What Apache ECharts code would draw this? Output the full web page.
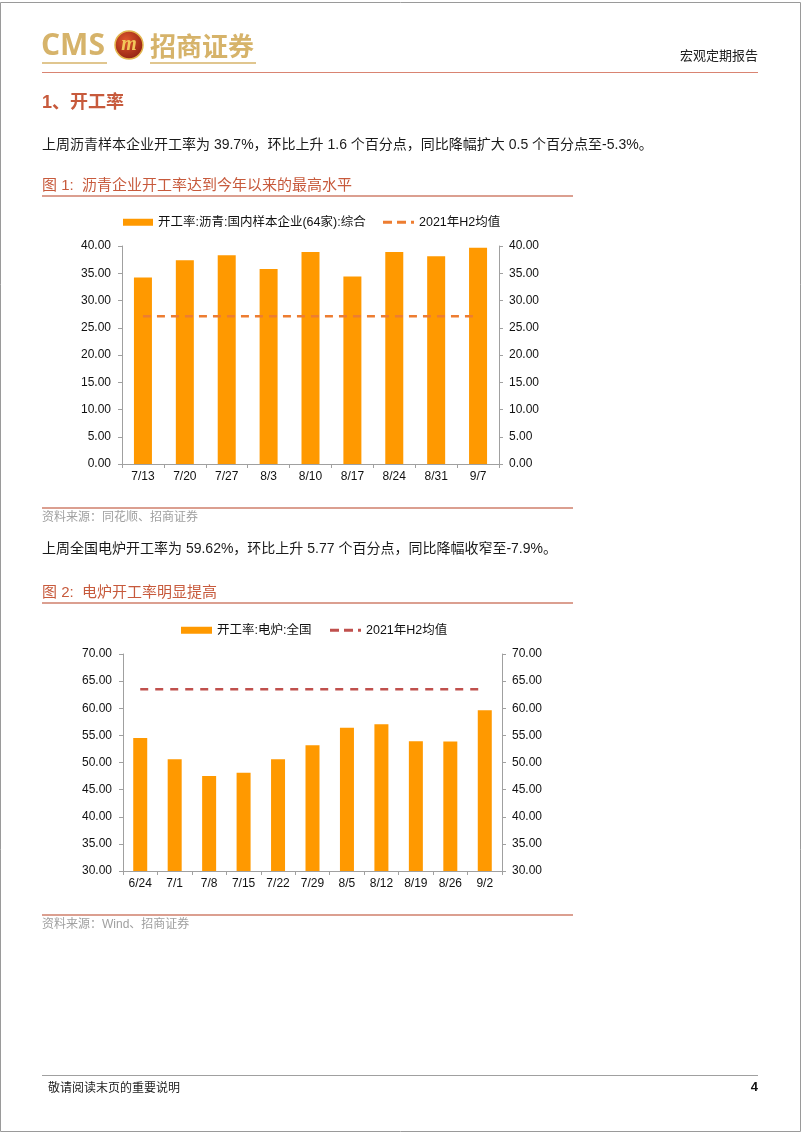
<!DOCTYPE html>
<html>
<head>
<meta charset="utf-8">
<script src="https://cdn.jsdelivr.net/npm/echarts@6/dist/echarts.min.js"></script>
<style>
html,body{margin:0;padding:0;background:#fff;}
#c{width:802px;height:1133px;}
</style>
</head>
<body>
<div id="c"></div>
<script>
// ---- Chart 1 data: 沥青开工率 ----
const cats1 = ['7/13','7/20','7/27','8/3','8/10','8/17','8/24','8/31','9/7'];
const asphalt = [34.2, 37.4, 38.3, 35.8, 38.9, 34.4, 38.9, 38.1, 39.7];
const asphaltAvg = [27.1, 27.1, 27.1, 27.1, 27.1, 27.1, 27.1, 27.1, 27.1];
const ticks1 = [0, 5, 10, 15, 20, 25, 30, 35, 40];

// ---- Chart 2 data: 电炉开工率 ----
const cats2 = ['6/24','7/1','7/8','7/15','7/22','7/29','8/5','8/12','8/19','8/26','9/2'];
const eaf = [54.5, 50.6, 47.5, 48.1, 50.6, 53.2, 56.4, 57.05, 53.9, 53.85, 59.62];
const eafAvg = [63.5, 63.5, 63.5, 63.5, 63.5, 63.5, 63.5, 63.5, 63.5, 63.5, 63.5];
const ticks2 = [30, 35, 40, 45, 50, 55, 60, 65, 70];

const seriesName1 = '开工率:沥青:国内样本企业(64家):综合';
const seriesName2 = '开工率:电炉:全国';
const avgLabel = '2021年H2均值';

const FONT = '"Liberation Sans", Arial, "Noto Sans CJK SC", sans-serif';
const CJK = '"Liberation Sans", "Noto Sans CJK SC", sans-serif';

const chart = echarts.init(document.getElementById('c'), null, {renderer:'canvas'});

function yAx(grid, pos, ticks){
  return {
    type:'value', gridIndex:grid, position:pos,
    min:ticks[0], max:ticks[ticks.length-1], interval:ticks[1]-ticks[0],
    axisLine:{show:true, lineStyle:{color:'#A0A0A0', width:1}},
    axisTick:{show:true, length:4, lineStyle:{color:'#A0A0A0'}},
    splitLine:{show:false},
    axisLabel:{formatter:v=>v.toFixed(2), fontSize:12, color:'#111', fontFamily:FONT, margin: pos==='left'?11:10}
  };
}
function xAx(grid, data){
  return {
    type:'category', gridIndex:grid, data:data,
    axisLine:{show:true, lineStyle:{color:'#A0A0A0', width:1}},
    axisTick:{show:true, length:4, interval:0, lineStyle:{color:'#A0A0A0'}},
    axisLabel:{fontSize:12, color:'#111', fontFamily:FONT, margin:7, interval:0}
  };
}

function txt(text, x, y, size, color, extra){
  return {
    type:'text', silent:true,
    style:Object.assign({text:text, x:x, y:y, fontSize:size, fontFamily:CJK, fill:color, verticalAlign:'middle'}, extra||{})
  };
}
function line(x1,y1,x2,y2,color,w){
  return {type:'line', silent:true, shape:{x1:x1,y1:y1,x2:x2,y2:y2}, style:{stroke:color, lineWidth:w}};
}

const gold = '#D6B36A';
const titleColor = '#C75A3C';
const ruleColor = '#CF7F6B';
const dashIcon = 'path://M0,0H9V3H0Z M14,0H23V3H14Z M28,0H31V3H28Z';

const graphics = [
  // page border
  {type:'rect', silent:true, shape:{x:0.5,y:2.5,width:800,height:1129}, style:{fill:'none', stroke:'#9A9A9A', lineWidth:1}},
  // logo
  txt('CMS', 41, 46, 30, gold, {fontWeight:'bold', fontFamily:'"Open Sans", "Liberation Sans", sans-serif'}),
  {type:'circle', silent:true, shape:{cx:129, cy:45, r:14}, style:{fill:{type:'radial',x:0.4,y:0.35,r:0.7,colorStops:[{offset:0,color:'#E0572C'},{offset:1,color:'#8E1F12'}]}, stroke:'#E3B64E', lineWidth:1.5}},
  txt('m', 129, 45, 20, '#F2C75A', {fontWeight:'bold', fontStyle:'italic', align:'center', fontFamily:'"Liberation Serif", serif'}),
  txt('招商证券', 150, 46, 26, gold, {fontWeight:'bold', fontFamily:'"Noto Sans CJK SC", sans-serif'}),
  line(42, 63, 107, 63, gold, 1.5),
  line(150, 63, 256, 63, gold, 1.5),
  txt('宏观定期报告', 758, 55, 13, '#222', {align:'right', fontFamily:'"Noto Sans CJK SC", sans-serif'}),
  line(42, 72.5, 758, 72.5, '#D98472', 1),

  // section
  txt('1、开工率', 42, 103, 18, titleColor, {fontWeight:'bold'}),
  txt('上周沥青样本企业开工率为 39.7%，环比上升 1.6 个百分点，同比降幅扩大 0.5 个百分点至-5.3%。', 42, 145, 14, '#1a1a1a'),
  txt('图 1:  沥青企业开工率达到今年以来的最高水平', 42, 186, 15, titleColor),
  line(42, 196, 573, 196, ruleColor, 1.5),
  line(42, 508, 573, 508, ruleColor, 1.5),
  txt('资料来源：同花顺、招商证券', 42, 518, 12, '#A0A0A0'),

  txt('上周全国电炉开工率为 59.62%，环比上升 5.77 个百分点，同比降幅收窄至-7.9%。', 42, 549, 14, '#1a1a1a'),
  txt('图 2:  电炉开工率明显提高', 42, 593, 15, titleColor),
  line(42, 603, 573, 603, ruleColor, 1.5),
  line(42, 915, 573, 915, ruleColor, 1.5),
  txt('资料来源：Wind、招商证券', 42, 925, 12, '#A0A0A0'),

  // footer
  line(42, 1075.5, 758, 1075.5, '#A0A0A0', 1),
  txt('敬请阅读末页的重要说明', 48, 1087, 12, '#222', {fontFamily:'"Noto Sans CJK SC", sans-serif'}),
  txt('4', 758, 1087, 13, '#111', {align:'right', fontWeight:'bold', fontFamily:FONT})
];

const option = {
  animation:false,
  backgroundColor:'#fff',
  textStyle:{fontFamily:FONT},
  grid:[
    {left:122, width:377, top:246, height:218},
    {left:123, width:379, top:654, height:217}
  ],
  xAxis:[xAx(0, cats1), xAx(1, cats2)],
  yAxis:[yAx(0,'left',ticks1), yAx(0,'right',ticks1), yAx(1,'left',ticks2), yAx(1,'right',ticks2)],
  legend:[
    {data:[seriesName1], left:118, top:211, itemWidth:30, itemHeight:7, icon:'rect', itemGap:0,
     textStyle:{fontSize:12.5, color:'#111', fontFamily:CJK}, selectedMode:false},
    {data:[{name:'avg1', icon:dashIcon}], left:378, top:211, itemWidth:31, itemHeight:3, itemGap:0, formatter:()=>avgLabel,
     itemStyle:{color:'#ED7D31'}, lineStyle:{width:0},
     textStyle:{fontSize:12.5, color:'#111', fontFamily:CJK}, selectedMode:false},
    {data:[seriesName2], left:176, top:619, itemWidth:31, itemHeight:7, icon:'rect', itemGap:0,
     textStyle:{fontSize:12.5, color:'#111', fontFamily:CJK}, selectedMode:false},
    {data:[{name:'avg2', icon:dashIcon}], left:325, top:619, itemWidth:31, itemHeight:3, itemGap:0, formatter:()=>avgLabel,
     itemStyle:{color:'#C0504D'}, lineStyle:{width:0},
     textStyle:{fontSize:12.5, color:'#111', fontFamily:CJK}, selectedMode:false}
  ],
  series:[
    {name:seriesName1, type:'bar', xAxisIndex:0, yAxisIndex:0, data:asphalt, barWidth:18,
     itemStyle:{color:'#FF9900'}},
    {name:'avg1', type:'line', xAxisIndex:0, yAxisIndex:0, data:asphaltAvg, symbol:'none', showSymbol:false,
     lineStyle:{color:'#ED7D31', width:2.5, type:[8,6]}, itemStyle:{color:'#ED7D31'}},
    {name:seriesName2, type:'bar', xAxisIndex:1, yAxisIndex:2, data:eaf, barWidth:14,
     itemStyle:{color:'#FF9900'}},
    {name:'avg2', type:'line', xAxisIndex:1, yAxisIndex:2, data:eafAvg, symbol:'none', showSymbol:false,
     lineStyle:{color:'#C0504D', width:2.5, type:[8,7]}, itemStyle:{color:'#C0504D'}}
  ],
  graphic:graphics
};
chart.setOption(option);
</script>
</body>
</html>
